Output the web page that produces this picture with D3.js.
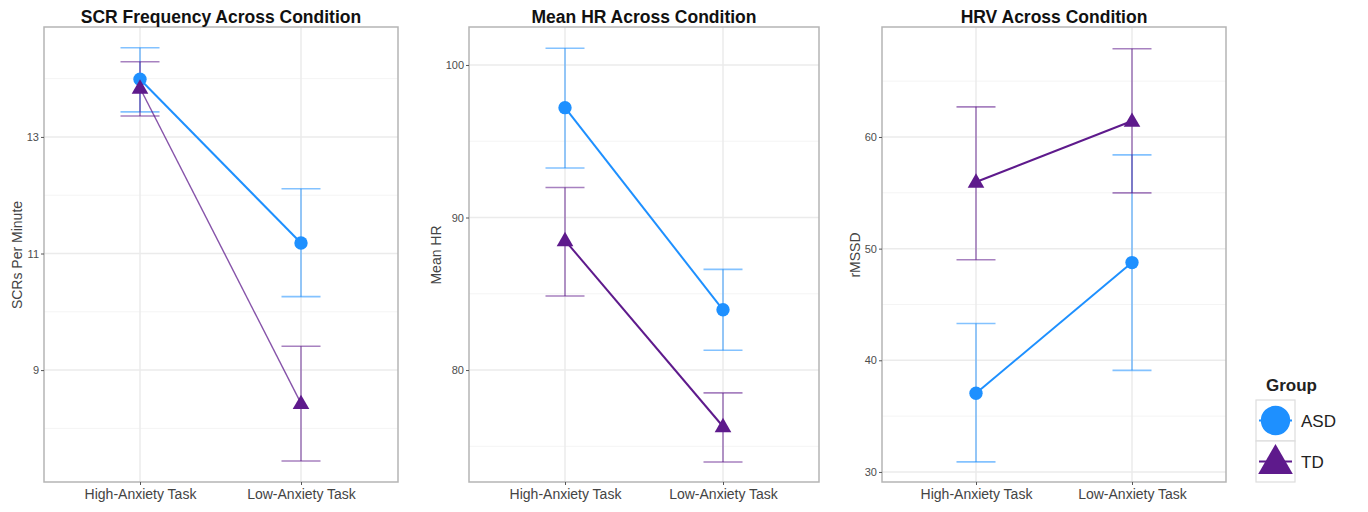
<!DOCTYPE html>
<html>
<head>
<meta charset="utf-8">
<script src="https://cdn.jsdelivr.net/npm/d3@7"></script>
<style>
  body { margin: 0; background: #fff; }
  svg { font-family: "Liberation Sans", Arial, sans-serif; }
  .grid line { stroke: #ebebeb; }
  .grid .minor { stroke: #f4f4f4; }
</style>
</head>
<body>
<svg id="chart" width="1368" height="512"></svg>
<script>
// categories and groups
const conditions = ["High-Anxiety Task", "Low-Anxiety Task"];
const groups = ["ASD", "TD"];

// SCR frequency (mean, lower, upper) per condition
const scrASD = [13.99, 11.18];
const scrASDLo = [13.43, 10.26];
const scrASDHi = [14.53, 12.11];
const scrTD = [13.84, 8.43];
const scrTDLo = [13.36, 7.44];
const scrTDHi = [14.29, 9.41];

// Mean HR
const hrASD = [97.2, 83.95];
const hrASDLo = [93.25, 81.3];
const hrASDHi = [101.1, 86.6];
const hrTD = [88.5, 76.3];
const hrTDLo = [84.85, 73.97];
const hrTDHi = [91.97, 78.5];

// HRV (rMSSD)
const hrvASD = [37.05, 48.75];
const hrvASDLo = [30.9, 39.1];
const hrvASDHi = [43.3, 58.4];
const hrvTD = [55.97, 61.43];
const hrvTDLo = [49.0, 54.99];
const hrvTDHi = [62.7, 67.9];

// tick labels
const scrTicks = [9, 11, 13];
const hrTicks = [80, 90, 100];
const hrvTicks = [30, 40, 50, 60];

const colors = { ASD: "#1e90ff", TD: "#5e1a8c" };

const svg = d3.select("#chart");

function series(mean, lo, hi) {
  return mean.map((m, i) => ({ cond: conditions[i], mean: m, lo: lo[i], hi: hi[i] }));
}

function drawPanel(p) {
  const left = p.left, right = p.right, top = 27, bottom = 482;
  const x = d3.scalePoint().domain(conditions).range([p.x0, p.x1]);
  const y = d3.scaleLinear().domain(p.domain).range([bottom, top]);
  const g = svg.append("g");

  // grid
  const grid = g.append("g").attr("class", "grid");
  const minor = [];
  for (let i = 0; i < p.ticks.length + 1; i++) {
    const step = p.ticks[1] - p.ticks[0];
    minor.push(p.ticks[0] - step / 2 + i * step);
  }
  grid.selectAll(".minor").data(minor.filter(v => v > p.domain[0] && v < p.domain[1]))
    .join("line").attr("class", "minor")
    .attr("x1", left).attr("x2", right)
    .attr("y1", d => y(d)).attr("y2", d => y(d)).attr("stroke-width", 1);
  grid.selectAll(".major").data(p.ticks).join("line").attr("class", "major")
    .attr("x1", left).attr("x2", right)
    .attr("y1", d => y(d)).attr("y2", d => y(d)).attr("stroke-width", 1.5);
  grid.selectAll(".vx").data(conditions).join("line").attr("class", "vx")
    .attr("y1", top).attr("y2", bottom)
    .attr("x1", d => x(d)).attr("x2", d => x(d)).attr("stroke-width", 1.5);

  // error bars
  const cap = 19.5;
  p.data.forEach(s => {
    const eb = g.append("g").attr("stroke", colors[s.group]).attr("stroke-opacity", 0.55)
      .attr("stroke-width", 1.6).attr("fill", "none");
    s.values.forEach(d => {
      eb.append("line").attr("x1", x(d.cond)).attr("x2", x(d.cond)).attr("y1", y(d.lo)).attr("y2", y(d.hi));
      eb.append("line").attr("x1", x(d.cond) - cap).attr("x2", x(d.cond) + cap).attr("y1", y(d.lo)).attr("y2", y(d.lo));
      eb.append("line").attr("x1", x(d.cond) - cap).attr("x2", x(d.cond) + cap).attr("y1", y(d.hi)).attr("y2", y(d.hi));
    });
  });

  // lines and points
  const line = d3.line().x(d => x(d.cond)).y(d => y(d.mean));
  p.data.forEach(s => {
    g.append("path").datum(s.values).attr("d", line).attr("fill", "none")
      .attr("stroke", colors[s.group])
      .attr("stroke-width", s.group === "TD" && p.thinTD ? 1.4 : 2)
      .attr("stroke-opacity", s.group === "TD" && p.thinTD ? 0.75 : 1);
    const sym = s.group === "ASD" ? d3.symbolCircle : d3.symbolTriangle;
    const size = s.group === "ASD" ? 140 : 120;
    g.selectAll(null).data(s.values).join("path")
      .attr("transform", d => `translate(${x(d.cond)},${y(d.mean) + (s.group === "TD" ? 1 : 0)})`)
      .attr("d", d3.symbol(sym, size)).attr("fill", colors[s.group]);
  });

  // panel border
  g.append("rect").attr("x", left).attr("y", top).attr("width", right - left).attr("height", bottom - top)
    .attr("fill", "none").attr("stroke", "#b5b5b5").attr("stroke-width", 1.5);

  // axes
  const ya = g.append("g").attr("transform", `translate(${left},0)`)
    .call(d3.axisLeft(y).tickValues(p.ticks).tickSize(3).tickPadding(2));
  ya.select(".domain").remove();
  ya.selectAll("line").attr("stroke", "#555");
  ya.selectAll("text").attr("fill", "#4d4d4d").attr("font-size", 11).attr("font-family", "Liberation Sans, Arial");

  const xa = g.append("g").attr("transform", `translate(0,${bottom})`)
    .call(d3.axisBottom(x).tickSize(3).tickPadding(4));
  xa.select(".domain").remove();
  xa.selectAll("line").attr("stroke", "#555");
  xa.selectAll("text").attr("fill", "#444").attr("font-size", 14).attr("font-family", "Liberation Sans, Arial");

  // titles
  g.append("text").attr("x", (left + right) / 2).attr("y", 23).attr("text-anchor", "middle")
    .attr("font-size", 17.5).attr("font-weight", "bold").attr("fill", "#111").text(p.title);
  g.append("text").attr("transform", `translate(${p.labelX},255) rotate(-90)`)
    .attr("text-anchor", "middle").attr("font-size", 14).attr("fill", "#444").text(p.ylabel);
}

drawPanel({
  title: "SCR Frequency Across Condition", ylabel: "SCRs Per Minute",
  left: 44, right: 398, x0: 140, x1: 301, labelX: 22, domain: [7.08, 14.886],
  ticks: scrTicks, thinTD: true,
  data: [
    { group: "ASD", values: series(scrASD, scrASDLo, scrASDHi) },
    { group: "TD", values: series(scrTD, scrTDLo, scrTDHi) }
  ]
});

drawPanel({
  title: "Mean HR Across Condition", ylabel: "Mean HR",
  left: 469, right: 819, x0: 565, x1: 723, labelX: 441, domain: [72.66, 102.49],
  ticks: hrTicks,
  data: [
    { group: "ASD", values: series(hrASD, hrASDLo, hrASDHi) },
    { group: "TD", values: series(hrTD, hrTDLo, hrTDHi) }
  ]
});

drawPanel({
  title: "HRV Across Condition", ylabel: "rMSSD",
  left: 882, right: 1226, x0: 976, x1: 1132, labelX: 860, domain: [29.1, 69.85],
  ticks: hrvTicks,
  data: [
    { group: "ASD", values: series(hrvASD, hrvASDLo, hrvASDHi) },
    { group: "TD", values: series(hrvTD, hrvTDLo, hrvTDHi) }
  ]
});

// legend
const lg = svg.append("g").attr("transform", "translate(1256,372)");
lg.append("text").attr("x", 10).attr("y", 19).attr("font-size", 17).attr("font-weight", "bold")
  .attr("fill", "#222").text("Group");
groups.forEach((gname, i) => {
  const ky = 28 + i * 41;
  const k = lg.append("g").attr("transform", `translate(0,${ky})`);
  k.append("rect").attr("x", 0).attr("y", 0).attr("width", 39).attr("height", 41)
    .attr("fill", "#fff").attr("stroke", "#ddd").attr("stroke-width", 1.2);
  k.append("line").attr("x1", 3).attr("x2", 36).attr("y1", 20.5).attr("y2", 20.5)
    .attr("stroke", colors[gname]).attr("stroke-width", 2);
  k.append("path").attr("transform", `translate(19.5,${gname === "TD" ? 23 : 20.5})`)
    .attr("d", d3.symbol(gname === "ASD" ? d3.symbolCircle : d3.symbolTriangle, gname === "ASD" ? 680 : 520))
    .attr("fill", colors[gname]);
  k.append("text").attr("x", 45).attr("y", 27).attr("font-size", 17).attr("fill", "#222").text(gname);
});
</script>
</body>
</html>
